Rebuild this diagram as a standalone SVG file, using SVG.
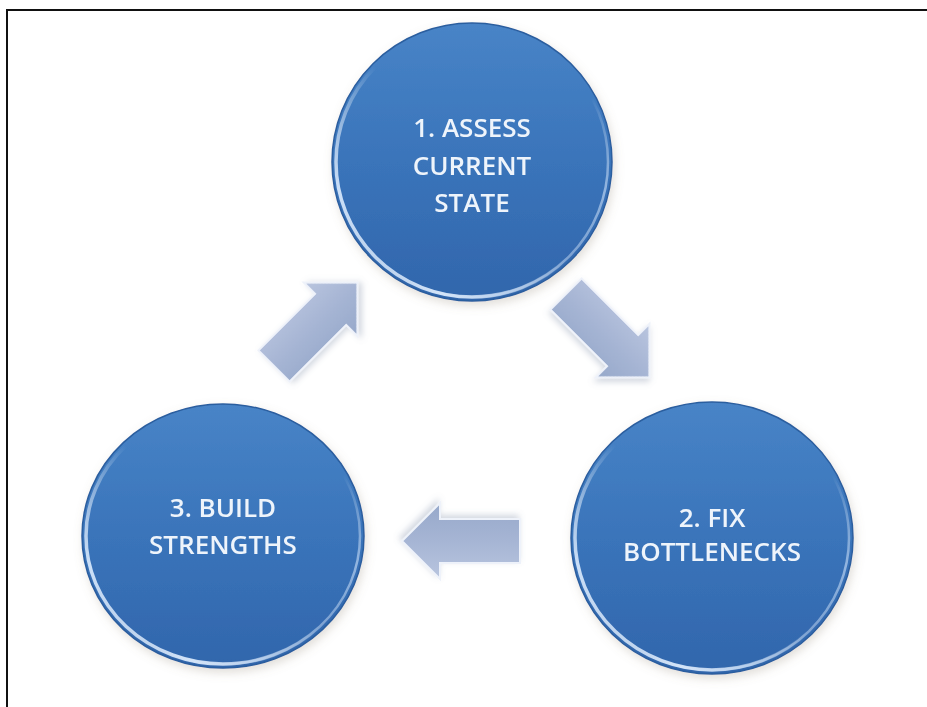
<svg xmlns="http://www.w3.org/2000/svg" width="927" height="707" viewBox="0 0 927 707">
  <defs>
    <!-- sphere body: lighter at the top, deeper blue toward the bottom -->
    <linearGradient id="discFill" x1="0" y1="0" x2="0" y2="1">
      <stop offset="0" stop-color="#4884c7"/>
      <stop offset="0.5" stop-color="#3a74ba"/>
      <stop offset="1" stop-color="#3166ac"/>
    </linearGradient>
    <!-- bevel highlight along the lower-left rim -->
    <linearGradient id="rimLight" x1="1" y1="0" x2="0" y2="1">
      <stop offset="0" stop-color="#ffffff" stop-opacity="0"/>
      <stop offset="0.5" stop-color="#ffffff" stop-opacity="0"/>
      <stop offset="0.8" stop-color="#dcecff" stop-opacity="0.9"/>
      <stop offset="1" stop-color="#ffffff" stop-opacity="0.5"/>
    </linearGradient>
    <linearGradient id="rimLightR" x1="0" y1="0" x2="1" y2="1">
      <stop offset="0" stop-color="#ffffff" stop-opacity="0"/>
      <stop offset="0.6" stop-color="#ffffff" stop-opacity="0"/>
      <stop offset="0.8" stop-color="#cfe3fb" stop-opacity="0.6"/>
      <stop offset="1" stop-color="#ffffff" stop-opacity="0"/>
    </linearGradient>
    <!-- block arrow body -->
    <linearGradient id="arrowFill" x1="0" y1="0" x2="0" y2="1">
      <stop offset="0" stop-color="#b9c5df"/>
      <stop offset="0.5" stop-color="#a6b5d4"/>
      <stop offset="1" stop-color="#96a8ca"/>
    </linearGradient>
    <filter id="softShadow" x="-20%" y="-20%" width="140%" height="140%">
      <feDropShadow dx="2" dy="4" stdDeviation="5" flood-color="#8a7a6a" flood-opacity="0.25"/>
    </filter>
    <filter id="arrowShadow" x="-30%" y="-30%" width="160%" height="160%">
      <feDropShadow dx="2" dy="3" stdDeviation="3" flood-color="#6a7a99" flood-opacity="0.3"/>
    </filter>
    <filter id="textSoft">
      <feGaussianBlur stdDeviation="0.35"/>
    </filter>
    <path id="blockArrow" d="M0,-22 H80 V-38 L118,0 L80,38 V22 H0 Z"/>
  </defs>
  <style>
    .disc { fill: url(#discFill); stroke: #2b5e9f; stroke-width: 1.5; }
    .rim { fill: none; stroke: url(#rimLight); stroke-width: 3.5; }
    .rim2 { fill: none; stroke: url(#rimLightR); stroke-width: 2.5; }
    .label { font-family: "Open Sans", "Noto Sans", sans-serif; font-size: 26px; font-weight: 600; fill: #eef4fb; text-anchor: middle; }
    .arrow { fill: url(#arrowFill); stroke: #eef2fa; stroke-width: 2; stroke-linejoin: miter; }
  </style>

  <rect x="0" y="0" width="927" height="707" fill="#ffffff"/>
  <!-- frame: left and top edges only -->
  <path d="M7,707 V10 H927" fill="none" stroke="#111111" stroke-width="2"/>

  <g id="connectors">
    <g filter="url(#arrowShadow)" transform="translate(566,294) rotate(45)">
      <use href="#blockArrow" class="arrow"/>
    </g>
    <g filter="url(#arrowShadow)" transform="translate(520,541) rotate(180)">
      <use href="#blockArrow" class="arrow"/>
    </g>
    <g filter="url(#arrowShadow)" transform="translate(274,366) rotate(-45)">
      <use href="#blockArrow" class="arrow"/>
    </g>
  </g>

  <g id="node-assess">
    <ellipse class="disc" cx="472" cy="162" rx="140" ry="139" filter="url(#softShadow)"/>
    <ellipse class="rim" cx="472" cy="162" rx="136" ry="135"/>
    <ellipse class="rim2" cx="472" cy="162" rx="136" ry="135"/>
    <g filter="url(#textSoft)">
      <text class="label" x="472" y="137">1. ASSESS</text>
      <text class="label" x="472" y="175">CURRENT</text>
      <text class="label" x="472" y="212">STATE</text>
    </g>
  </g>

  <g id="node-fix">
    <ellipse class="disc" cx="712" cy="538" rx="141" ry="136" filter="url(#softShadow)"/>
    <ellipse class="rim" cx="712" cy="538" rx="137" ry="132"/>
    <ellipse class="rim2" cx="712" cy="538" rx="137" ry="132"/>
    <g filter="url(#textSoft)">
      <text class="label" x="712" y="527">2. FIX</text>
      <text class="label" x="712" y="561">BOTTLENECKS</text>
    </g>
  </g>

  <g id="node-build">
    <ellipse class="disc" cx="223" cy="536" rx="141" ry="132" filter="url(#softShadow)"/>
    <ellipse class="rim" cx="223" cy="536" rx="137" ry="128"/>
    <ellipse class="rim2" cx="223" cy="536" rx="137" ry="128"/>
    <g filter="url(#textSoft)">
      <text class="label" x="223" y="517">3. BUILD</text>
      <text class="label" x="223" y="554">STRENGTHS</text>
    </g>
  </g>
</svg>
